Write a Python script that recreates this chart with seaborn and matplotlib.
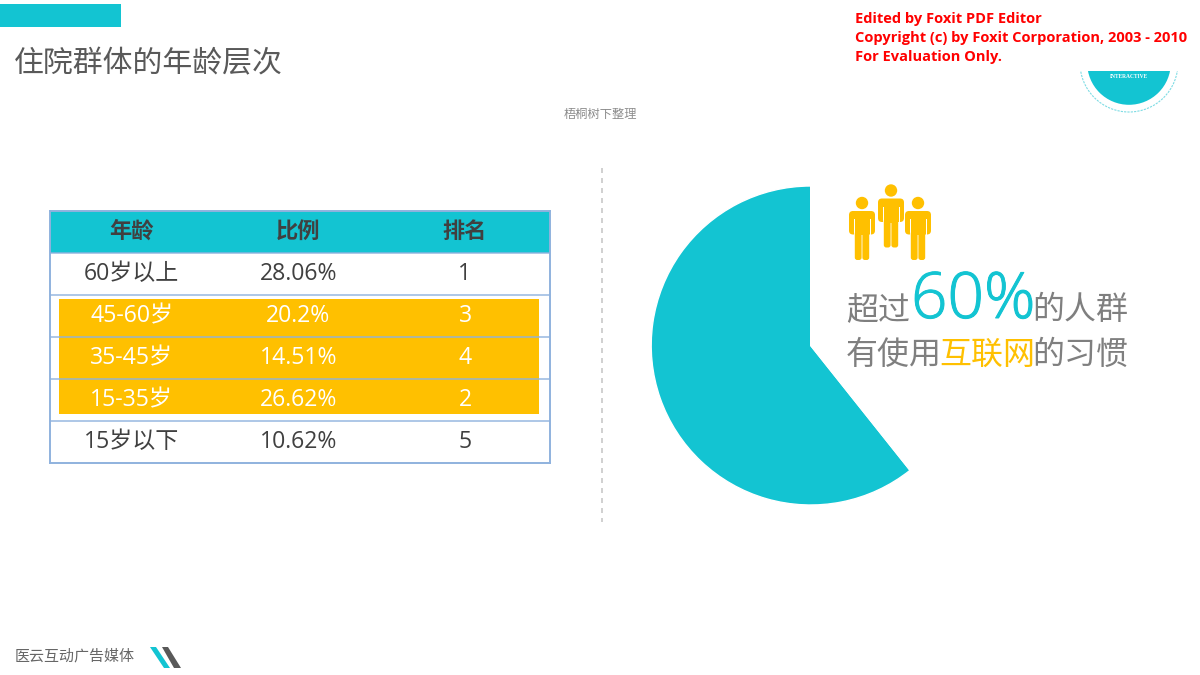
"""Inpatient age groups slide: age table on the left, 60% pie on the right."""

import matplotlib
matplotlib.use('Agg')
import matplotlib.pyplot as plt
from matplotlib.colors import ListedColormap
from matplotlib.patches import Circle, FancyBboxPatch, Polygon, Rectangle
import matplotlib.patheffects as pe
import numpy as np
import seaborn as sns

# table data
HEADERS = ['年龄', '比例', '排名']
AGE_GROUPS = ['60岁以上', '45-60岁', '35-45岁', '15-35岁', '15岁以下']
SHARES = [28.06, 20.2, 14.51, 26.62, 10.62]
RANKS = [1, 3, 4, 2, 5]
HIGHLIGHT = [False, True, True, True, False]

# pie data: internet users vs the rest
PIE_VALUES = [60.7, 39.3]

TEAL = '#13C4D2'
ORANGE = '#FFC000'
LINE = '#8FB2DE'
TEXT = '#404040'
GREY = '#7F7F7F'
FONT = ['Open Sans', 'Noto Sans CJK SC', 'DejaVu Sans']
CJK = ['Noto Sans CJK SC', 'DejaVu Sans']

W, H = 1200, 675


def px_axes(fig, x0, y0, x1, y1, **kwargs):
    # axes placed by pixel box, y measured from the top
    return fig.add_axes([x0 / W, 1 - y1 / H, (x1 - x0) / W, (y1 - y0) / H], **kwargs)


def draw_table(fig):
    ax = px_axes(fig, 50, 210.7, 550, 463.3)
    kinds = np.ones((len(AGE_GROUPS) + 1, len(HEADERS)))
    kinds[0, :] = 0
    sns.heatmap(kinds, ax=ax, cmap=ListedColormap([TEAL, 'white']), vmin=0, vmax=1,
                cbar=False, xticklabels=False, yticklabels=False)

    ax.add_patch(Rectangle((0.052, 2.1), 2.882, 2.74, color=ORANGE, lw=0, zorder=2))
    ax.hlines(range(1, 6), 0, 3, color=LINE, lw=1.2, alpha=0.85, zorder=3)
    for spine in ax.spines.values():
        spine.set_visible(True)
        spine.set_color(LINE)
        spine.set_linewidth(1.4)

    for col, label in enumerate(HEADERS):
        ax.text(col + 0.49, 0.49, label, ha='center', va='center', fontsize=16,
                fontweight='bold', color=TEXT, family=CJK, zorder=4)
    for i, (age, share, rank) in enumerate(zip(AGE_GROUPS, SHARES, RANKS)):
        color = 'white' if HIGHLIGHT[i] else TEXT
        cells = [age, f'{share:g}%', str(rank)]
        for col, cell in enumerate(cells):
            ax.text(col + 0.49, i + 1.5, cell, ha='center', va='center', fontsize=16.6,
                    color=color, family=FONT, zorder=4)


def draw_pie(fig):
    ax = px_axes(fig, 651.2, 186, 970.2, 505)
    ax.pie(PIE_VALUES, colors=[TEAL, 'none'], startangle=90, counterclock=True, radius=1)
    ax.set_xlim(-1, 1)
    ax.set_ylim(-1, 1)


def draw_person(ax, cx, head_y):
    # small figure icon: head, shoulders with arms, torso, two legs
    ax.add_patch(Circle((cx, head_y), 6.2, color=ORANGE, lw=0))
    ax.add_patch(FancyBboxPatch((cx - 13, head_y + 8), 26, 23.5, boxstyle='round,pad=0,rounding_size=4',
                                color=ORANGE, lw=0))
    for side in (-1, 1):
        ax.add_patch(Rectangle((cx + side * 8 - 0.5, head_y + 16), 1, 16, color='white', lw=0))
        ax.add_patch(FancyBboxPatch((cx + side * 3.8 - 3.4, head_y + 28), 6.8, 29,
                                    boxstyle='round,pad=0,rounding_size=2.5', color=ORANGE, lw=0))
    ax.add_patch(Rectangle((cx - 7.2, head_y + 16), 14.4, 16, color=ORANGE, lw=0))


def draw_overlay(fig):
    ax = px_axes(fig, 0, 0, W, H)
    ax.set_xlim(0, W)
    ax.set_ylim(H, 0)
    ax.axis('off')
    ax.patch.set_alpha(0)

    # header band and titles
    ax.add_patch(Rectangle((0, 4), 121, 23, color=TEAL, lw=0))
    ax.text(14, 64, '住院群体的年龄层次', fontsize=21.5, color='#595959', va='center', family=CJK)
    ax.text(600, 114, '梧桐树下整理', fontsize=8.8, color='#8C8C8C', ha='center', va='center', family=CJK)

    # evaluation stamp
    for y, line in zip([19, 38, 57], ['Edited by Foxit PDF Editor',
                                      'Copyright (c) by Foxit Corporation, 2003 - 2010',
                                      'For Evaluation Only.']):
        ax.text(855, y, line, fontsize=10.5, color='#FF0000', fontweight='bold', va='center', family='Open Sans')

    # logo, cut off by the stamp's white box
    clip = Rectangle((1070, 71), 120, 50, transform=ax.transData)
    disc = Circle((1129, 63), 41.8, color=TEAL, lw=0)
    ring = Circle((1129, 63), 49, fill=False, ec='#7FDCE4', lw=0.8, ls=(0, (2, 1)))
    for patch in (disc, ring):
        ax.add_patch(patch)
        patch.set_clip_path(clip)
    ax.text(1129, 76.5, 'INTERACTIVE', fontsize=4, color='white', fontweight='bold', ha='center', va='center',
            family='Liberation Serif')

    # divider
    ax.plot([602, 602], [168, 522], color='#C8C8C8', lw=1.2, ls=(0, (3, 3)))

    # callout
    draw_person(ax, 891, 190.5)
    draw_person(ax, 862, 203)
    draw_person(ax, 918, 203)
    ax.text(846, 319, '超过', fontsize=23, color=GREY, va='baseline', family=CJK)
    big = ax.text(911, 318, '60%', fontsize=46, color=TEAL, va='baseline', family='Open Sans', fontweight='light')
    big.set_path_effects([pe.withStroke(linewidth=0.7, foreground=TEAL)])
    ax.text(1032, 319, '的人群', fontsize=23, color=GREY, va='baseline', family=CJK)
    ax.text(846, 364, '有使用', fontsize=23, color=GREY, va='baseline', family=CJK)
    ax.text(939, 364, '互联网', fontsize=23, color=ORANGE, va='baseline', family=CJK)
    ax.text(1032, 364, '的习惯', fontsize=23, color=GREY, va='baseline', family=CJK)

    # footer
    ax.text(15, 656, '医云互动广告媒体', fontsize=10.8, color='#666666', va='center', family=CJK)
    ax.add_patch(Polygon([(150, 647), (156, 647), (170, 668), (164, 668)], color=TEAL, lw=0))
    ax.add_patch(Polygon([(162, 647), (168, 647), (181, 668), (174, 668)], color='#595959', lw=0))


def main():
    sns.set_theme(style='white')
    plt.rcParams['font.family'] = FONT

    fig = plt.figure(figsize=(12, 6.75), dpi=100, facecolor='white')
    draw_table(fig)
    draw_pie(fig)
    draw_overlay(fig)
    fig.savefig('out.png', dpi=100)


if __name__ == '__main__':
    main()
